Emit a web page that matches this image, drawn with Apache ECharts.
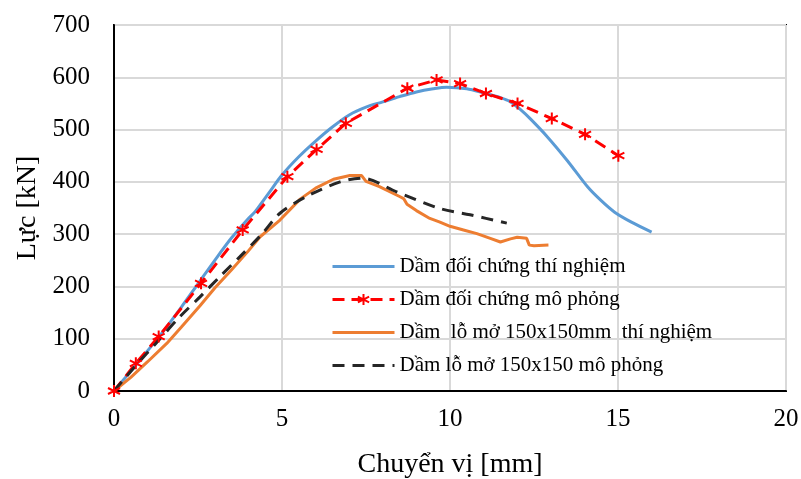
<!DOCTYPE html>
<html>
<head>
<meta charset="utf-8">
<script src="https://cdn.jsdelivr.net/npm/echarts@6/dist/echarts.min.js"></script>
<style>
  html, body { margin: 0; padding: 0; background: #fff; }
  #chart { width: 801px; height: 479px; }
</style>
</head>
<body>
<div id="chart"></div>
<script>
// du lieu doc tu hinh
const names = [
    'Dầm đối chứng thí nghiệm',
    'Dầm đối chứng mô phỏng',
    'Dầm  lỗ mở 150x150mm  thí nghiệm',
    'Dầm lỗ mở 150x150 mô phỏng'
];

const xTest = [0, 0.5, 1.0, 1.5, 2.0, 2.5, 3.0, 3.5, 4.0, 4.2, 4.6, 5.0, 5.5, 6.0, 6.5, 7.0, 7.5, 8.0, 8.5, 9.0, 9.5, 9.9, 10.5, 11.0, 11.5, 11.8, 12.1, 12.4, 12.9, 13.5, 14.1, 14.5, 14.9, 15.4, 16.0];
const yTest = [0, 38, 77, 117, 160, 205, 250, 293, 330, 343, 378, 413, 448, 478, 505, 528, 543, 553, 563, 572, 578, 581, 578, 570, 561, 553, 538, 520, 486, 440, 390, 364, 342, 323, 304];

const xSim = [0, 0.65, 1.33, 2.59, 3.83, 5.16, 6.03, 6.90, 8.73, 9.60, 10.30, 11.07, 12.01, 13.03, 14.02, 15.01];
const ySim = [0, 53, 104, 206, 308, 410, 462, 512, 579, 595, 588, 569, 550, 521, 491, 450];

const xHoleTest = [0, 0.5, 1.0, 1.57, 2.0, 2.56, 3.0, 3.5, 4.0, 4.35, 4.94, 5.54, 6.0, 6.53, 7.02, 7.37, 7.5, 7.9, 8.5, 8.62, 8.72, 9.0, 9.4, 9.7, 10.0, 10.4, 10.8, 11.2, 11.5, 11.8, 12.0, 12.28, 12.36, 12.5, 12.93];
const yHoleTest = [0, 26, 56, 91, 122, 163, 197, 232, 268, 295, 327, 367, 388, 405, 412, 412, 401, 391, 372, 368, 357, 345, 330, 323, 315, 308, 301, 292, 285, 291, 294, 292, 279, 278, 279];

const xHoleSim = [0, 0.6, 1.33, 1.96, 2.56, 3.2, 3.75, 4.4, 4.94, 5.73, 6.73, 7.4, 8.41, 9.7, 10.6, 11.69];
const yHoleSim = [0, 45, 97, 142, 180, 222, 257, 300, 340, 372, 400, 407, 381, 349, 337, 321];

function pairs(xs, ys) {
    return xs.map((x, i) => [x, ys[i]]);
}

const font = 'Liberation Serif';
const star = 'path://M0,-10L0,10M-8.66,-5L8.66,5M-8.66,5L8.66,-5';
// cac duong khong co diem: an vong tron tren chu thich
const hidden = 'rgba(0,0,0,0)';

const chart = echarts.init(document.getElementById('chart'), null, { renderer: 'canvas' });

chart.setOption({
    animation: false,
    backgroundColor: '#fff',
    grid: {
        left: 114,
        right: 15,
        top: 25,
        bottom: 88,
        outerBoundsMode: 'none',
        show: true,
        borderColor: '#000',
        borderWidth: 2
    },
    legend: {
        orient: 'vertical',
        left: 326,
        top: 251,
        itemWidth: 62,
        itemHeight: 14,
        itemGap: 12,
        data: names,
        lineStyle: { width: 3 },
        textStyle: {
            fontFamily: font,
            fontSize: 21,
            lineHeight: 20,
            color: '#000'
        }
    },
    xAxis: {
        type: 'value',
        min: 0,
        max: 20,
        interval: 5,
        name: 'Chuyển vị [mm]',
        nameLocation: 'middle',
        nameGap: 60,
        nameTextStyle: { fontFamily: font, fontSize: 28, color: '#000' },
        axisLine: { lineStyle: { color: '#000', width: 2 } },
        axisTick: { show: false },
        axisLabel: { fontFamily: font, fontSize: 25, color: '#000', margin: 16 },
        splitLine: { lineStyle: { color: '#d9d9d9', width: 2 } }
    },
    yAxis: {
        type: 'value',
        min: 0,
        max: 700,
        interval: 100,
        name: 'Lực [kN]',
        nameLocation: 'middle',
        nameGap: 71,
        nameTextStyle: { fontFamily: font, fontSize: 28, color: '#000' },
        axisLine: { lineStyle: { color: '#000', width: 2 } },
        axisTick: { show: false },
        axisLabel: { fontFamily: font, fontSize: 25, color: '#000', margin: 24 },
        splitLine: { lineStyle: { color: '#d9d9d9', width: 2 } }
    },
    series: [{
        name: names[0],
        type: 'line',
        data: pairs(xTest, yTest),
        symbol: 'none',
        smooth: 0.3,
        lineStyle: { color: '#5b9bd5', width: 3 },
        itemStyle: { color: hidden }
    }, {
        name: names[1],
        type: 'line',
        data: pairs(xSim, ySim),
        symbol: star,
        symbolSize: 12,
        lineStyle: { color: '#ff0000', width: 3, type: [12, 7] },
        itemStyle: { color: 'none', borderColor: '#ff0000', borderWidth: 2 }
    }, {
        name: names[2],
        type: 'line',
        data: pairs(xHoleTest, yHoleTest),
        symbol: 'none',
        lineStyle: { color: '#ed7d31', width: 3 },
        itemStyle: { color: hidden }
    }, {
        name: names[3],
        type: 'line',
        data: pairs(xHoleSim, yHoleSim),
        symbol: 'none',
        smooth: 0.3,
        lineStyle: { color: '#262626', width: 3, type: [12, 8] },
        itemStyle: { color: hidden }
    }]
});
</script>
</body>
</html>
